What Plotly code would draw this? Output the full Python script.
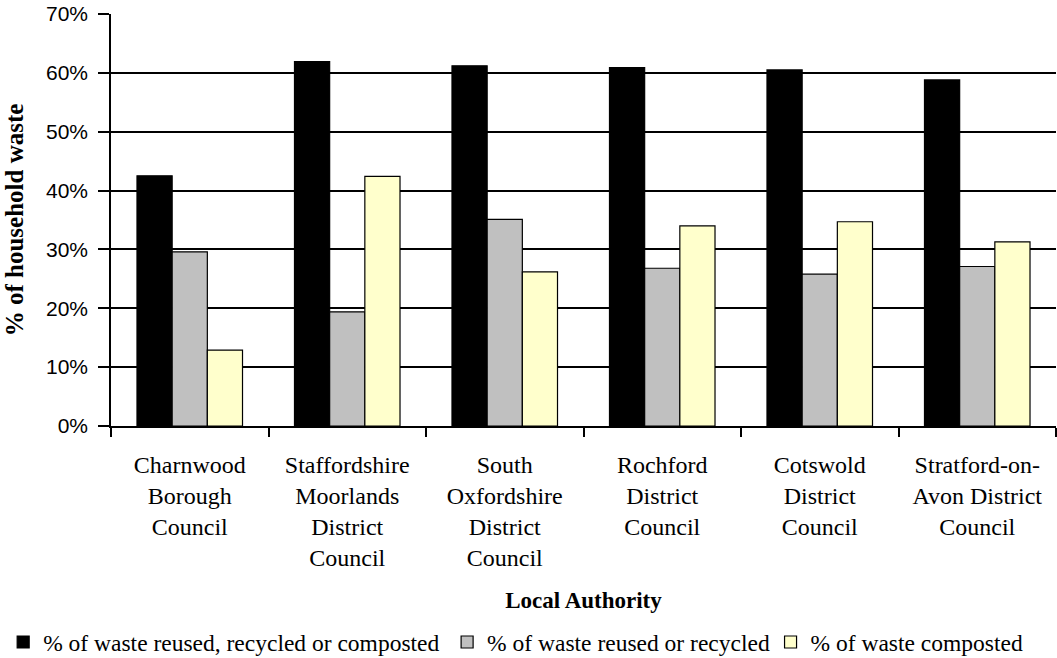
import plotly.graph_objects as go

categories = [
    "Charnwood<br>Borough<br>Council",
    "Staffordshire<br>Moorlands<br>District<br>Council",
    "South<br>Oxfordshire<br>District<br>Council",
    "Rochford<br>District<br>Council",
    "Cotswold<br>District<br>Council",
    "Stratford-on-<br>Avon District<br>Council",
]
total = [0.425, 0.619, 0.612, 0.609, 0.605, 0.588]
recycled = [0.296, 0.194, 0.351, 0.268, 0.258, 0.271]
composted = [0.129, 0.424, 0.262, 0.340, 0.347, 0.313]

series_names = [
    "% of waste reused, recycled or composted",
    "% of waste reused or recycled",
    "% of waste composted",
]
series_colors = ["#000000", "#C0C0C0", "#FFFFCC"]
legend_ids = ["legend", "legend2", "legend3"]
legend_x = [0.003, 0.423, 0.729]

serif = "Liberation Serif, Times New Roman, serif"

fig = go.Figure()
for name, vals, col, lid in zip(series_names, [total, recycled, composted], series_colors, legend_ids):
    fig.add_trace(go.Bar(
        x=categories, y=vals, name=name, legend=lid,
        marker=dict(color=col, line=dict(color="#000000", width=1.2)),
    ))

legend_common = dict(orientation="h", xref="container", yref="container", y=0.024,
                      yanchor="middle", xanchor="left", font=dict(family=serif, size=23.5),
                      bgcolor="rgba(0,0,0,0)", itemwidth=30)
fig.update_layout(
    width=1057, height=658,
    margin=dict(l=111, r=1, t=14, b=232, autoexpand=False),
    paper_bgcolor="white", plot_bgcolor="white",
    barmode="group", bargap=0.33, bargroupgap=0,
    font=dict(family=serif, size=23, color="black"),
    showlegend=True,
    legend=dict(x=legend_x[0], **legend_common),
    legend2=dict(x=legend_x[1], **legend_common),
    legend3=dict(x=legend_x[2], **legend_common),
)
fig.update_xaxes(
    showline=True, linecolor="black", linewidth=1.5,
    ticks="outside", tickson="boundaries", ticklen=9, tickcolor="black", tickwidth=1.5,
    tickfont=dict(family=serif, size=24), ticklabelstandoff=16,
    title=dict(text="<b>Local Authority</b>", font=dict(family=serif, size=23), standoff=22),
    automargin=True,
)
fig.update_yaxes(
    range=[0, 0.7], dtick=0.1, tickformat=".0%",
    showline=True, linecolor="black", linewidth=1.5,
    ticks="outside", ticklen=11, tickcolor="black", tickwidth=1.5,
    showgrid=True, gridcolor="black", gridwidth=1.5,
    tickfont=dict(family="Liberation Sans, Arial, sans-serif", size=21), ticklabelstandoff=6,
    title=dict(text="<b>% of household waste</b>", font=dict(family=serif, size=25), standoff=15),
    zeroline=False, automargin=True,
)
fig.write_html("out.html")
